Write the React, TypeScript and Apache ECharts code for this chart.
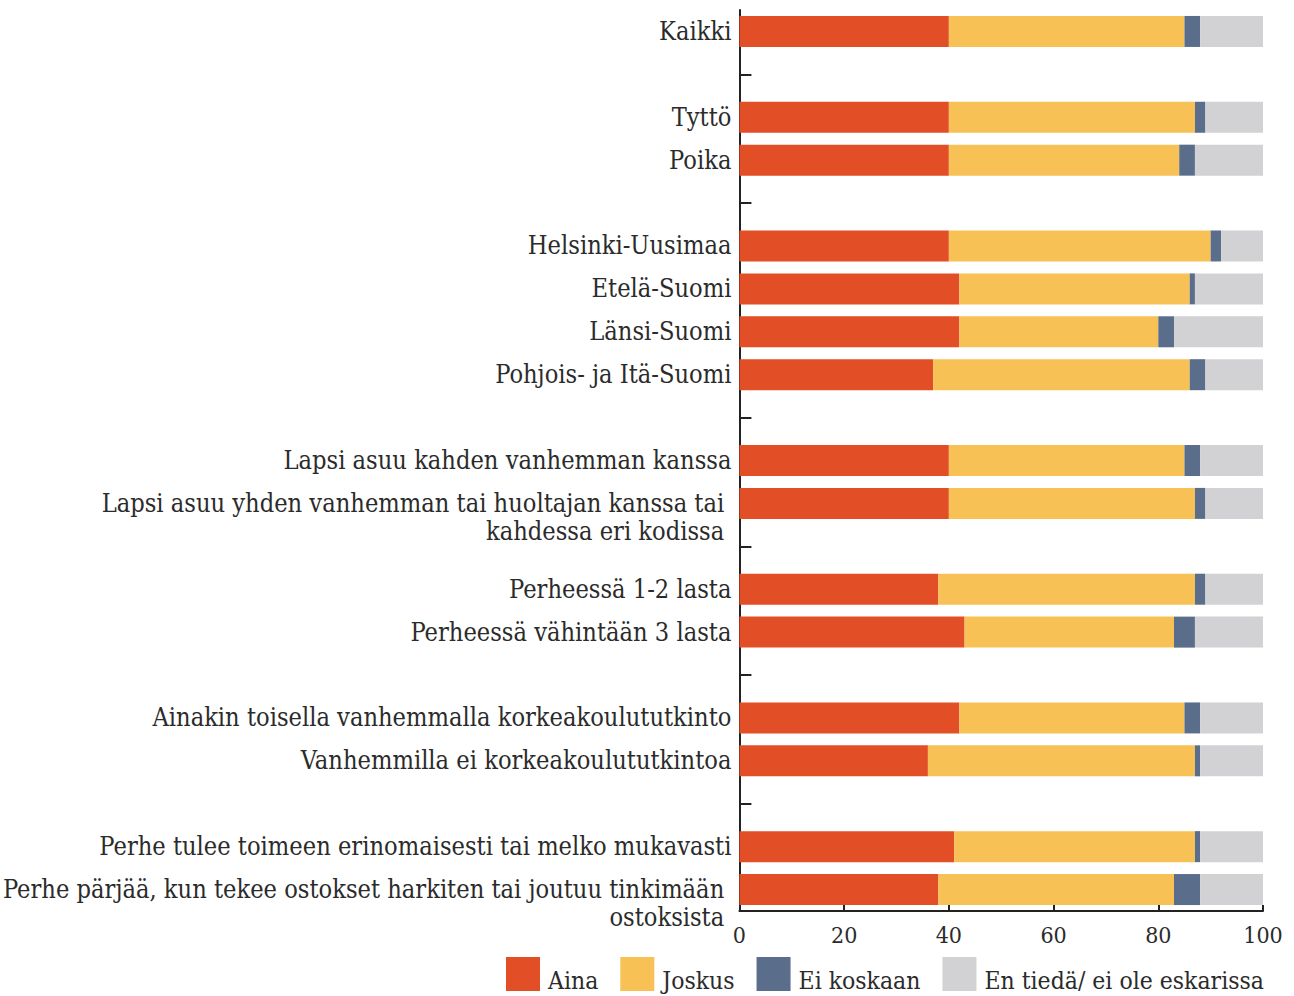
import React, { useEffect, useRef } from "react";
import * as echarts from "echarts";

const categories: string[] = [
  "Kaikki",
  "_1",
  "Tyttö",
  "Poika",
  "_2",
  "Helsinki-Uusimaa",
  "Etelä-Suomi",
  "Länsi-Suomi",
  "Pohjois- ja Itä-Suomi",
  "_3",
  "Lapsi asuu kahden vanhemman kanssa",
  "Lapsi asuu yhden vanhemman tai huoltajan kanssa tai\nkahdessa eri kodissa",
  "_4",
  "Perheessä 1-2 lasta",
  "Perheessä vähintään 3 lasta",
  "_5",
  "Ainakin toisella vanhemmalla korkeakoulututkinto",
  "Vanhemmilla ei korkeakoulututkintoa",
  "_6",
  "Perhe tulee toimeen erinomaisesti tai melko mukavasti",
  "Perhe pärjää, kun tekee ostokset harkiten tai joutuu tinkimään\nostoksista",
];

const seriesNames = ["Aina", "Joskus", "Ei koskaan", "En tiedä/ ei ole eskarissa"];

const aina = [40, null, 40, 40, null, 40, 42, 42, 37, null, 40, 40, null, 38, 43, null, 42, 36, null, 41, 38];
const joskus = [45, null, 47, 44, null, 50, 44, 38, 49, null, 45, 47, null, 49, 40, null, 43, 51, null, 46, 45];
const eiKoskaan = [3, null, 2, 3, null, 2, 1, 3, 3, null, 3, 2, null, 2, 4, null, 3, 1, null, 1, 5];
const enTieda = [12, null, 11, 13, null, 8, 13, 17, 11, null, 12, 11, null, 11, 13, null, 12, 12, null, 12, 12];

const xTicks = { min: 0, max: 100, interval: 20 };

const colors = ["#E24E25", "#F7C156", "#5A6E8B", "#D2D2D4"];

const FONT = "'DejaVu Serif Condensed', 'DejaVu Serif', serif";

export default function App() {
  const ref = useRef<HTMLDivElement>(null);
  useEffect(() => {
    if (!ref.current) return;
    const chart = echarts.init(ref.current, undefined, { renderer: "svg" });
    const values = [aina, joskus, eiKoskaan, enTieda];
    chart.setOption({
      animation: false,
      textStyle: { fontFamily: FONT },
      grid: { left: 738, right: 31, top: 10, bottom: 85, containLabel: false },
      legend: {
        left: 506,
        top: 957,
        padding: 0,
        itemWidth: 34,
        itemHeight: 34,
        itemGap: 22,
        icon: "rect",
        data: seriesNames,
        formatter: (name: string) => "{t|" + name + "}",
        textStyle: {
          fontFamily: FONT,
          fontSize: 24.5,
          color: "#2b2b2b",
          rich: {
            t: {
              fontFamily: FONT,
              fontSize: 24.5,
              color: "#2b2b2b",
              padding: [12, 0, 0, 3],
            },
          },
        },
      },
      xAxis: {
        type: "value",
        min: xTicks.min,
        max: xTicks.max,
        interval: xTicks.interval,
        axisLine: { show: true, lineStyle: { color: "#222", width: 2 } },
        axisTick: { show: true, inside: true, length: 6, lineStyle: { color: "#222", width: 2 } },
        splitLine: { show: false },
        axisLabel: { fontFamily: FONT, fontSize: 23, color: "#2b2b2b", margin: 12 },
      },
      yAxis: {
        type: "category",
        inverse: true,
        data: categories,
        axisLine: { show: true, lineStyle: { color: "#222", width: 2 } },
        axisTick: {
          show: true,
          inside: true,
          length: 12,
          alignWithLabel: true,
          interval: (_i: number, v: string) => v.startsWith("_"),
          lineStyle: { color: "#222", width: 2 },
        },
        axisLabel: {
          interval: 0,
          fontFamily: FONT,
          fontSize: 25.2,
          color: "#2b2b2b",
          margin: 8,
          lineHeight: 28,
          padding: [2, 0, 0, 0],
          formatter: (v: string) => {
            if (v.startsWith("_")) return "";
            if (v.includes("\n")) {
              const parts = v.split("\n");
              return "\n" + parts.map((p) => p + "\u00a0").join("\n");
            }
            return v;
          },
        },
      },
      series: seriesNames.map((name, k) => ({
        name,
        type: "bar",
        stack: "total",
        barWidth: 31,
        itemStyle: { color: colors[k] },
        data: values[k],
      })),
    });
    return () => chart.dispose();
  }, []);
  return (
    <div
      ref={ref}
      style={{ position: "fixed", left: 0, top: 0, width: 1294, height: 996, background: "#fff" }}
    />
  );
}
